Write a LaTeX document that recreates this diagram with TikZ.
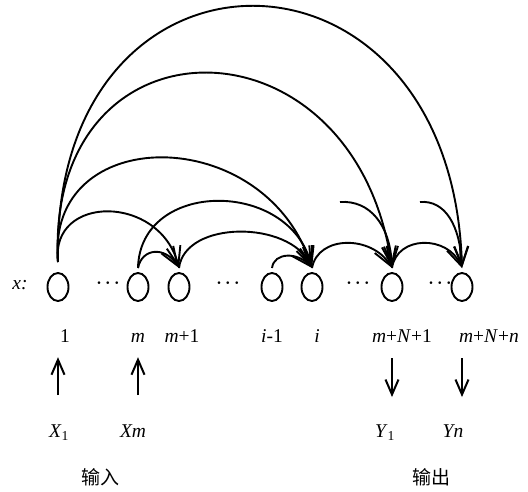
\documentclass[tikz,border=0pt]{standalone}
\usepackage{fontspec}
\setmainfont{Liberation Serif}
\newfontfamily\cjkfont{Noto Sans CJK SC}
\usetikzlibrary{shapes.geometric, arrows.meta}

\begin{document}
\begin{tikzpicture}[
    x=1pt, y=-1pt,
    cell/.style={draw, ellipse, line width=1.9pt, minimum width=21pt, minimum height=28pt, inner sep=0pt, outer sep=5pt},
    link/.style={-{Straight Barb[length=19pt, width=14pt]}, line width=1.9pt},
    io/.style={-{Straight Barb[length=15pt, width=13pt]}, line width=2pt},
    lbl/.style={font=\fontsize{19.5}{22}\selectfont, inner sep=0pt, anchor=base},
    gap/.style={font=\fontsize{17}{18}\selectfont\boldmath, inner sep=0pt},
    zh/.style={font=\fontsize{19}{22}\selectfont\cjkfont, inner sep=0pt}
]
\useasboundingbox (0,0) rectangle (528,491);

% Cells in one row
\node[lbl] (xl) at (20,289) {\textit{x:}};
\node[cell] (n1) at (58,287) {};
\node[cell] (nm) at (138,287) {};
\node[cell] (nm1) at (179,287) {};
\node[cell] (ni1) at (272,287) {};
\node[cell] (ni) at (312,287) {};
\node[cell] (nN1) at (392,287) {};
\node[cell] (nNn) at (462,287) {};

\node[gap] (d1) at (108,283) {$\cdots$};
\node[gap] (d2) at (228,283) {$\cdots$};
\node[gap] (d3) at (358,283) {$\cdots$};
\node[gap] (d4) at (440,283) {$\cdots$};

% Indices
\node[lbl] (l1) at (65,342) {1};
\node[lbl] (lm) at (138,342) {\textit{m}};
\node[lbl] (lm1) at (182,342) {\textit{m}+1};
\node[lbl] (li1) at (272,342) {\textit{i}-1};
\node[lbl] (li) at (317,342) {\textit{i}};
\node[lbl] (lN1) at (402,342) {\textit{m}+\textit{N}+1};
\node[lbl] (lNn) at (489,342) {\textit{m}+\textit{N}+\textit{n}};

% Inputs and outputs
\node[lbl] (x1) at (59,437) {\textit{X}\textsubscript{1}};
\node[lbl] (xm) at (133,437) {\textit{Xm}};
\node[lbl] (y1) at (385,437) {\textit{Y}\textsubscript{1}};
\node[lbl] (yn) at (453,437) {\textit{Yn}};
\node[zh] (inp) at (100,477) {输入};
\node[zh] (outp) at (431,477) {输出};

\draw[io, shorten <=29pt, shorten >=15pt] (n1 |- x1.north) -- (n1 |- l1.south);
\draw[io, shorten <=29pt, shorten >=15pt] (nm |- xm.north) -- (nm |- lm.south);
\draw[io, shorten <=16pt, shorten >=27pt] (nN1 |- lN1.south) -- (nN1 |- y1.north);
\draw[io, shorten <=16pt, shorten >=27pt] (nNn |- lNn.south) -- (nNn |- yn.north);

% Arcs from cell 1
\draw[link] ([yshift=6pt]n1.north) .. controls (50,-80) and (452,-80) .. (nNn.north);
\draw[link] ([yshift=6pt]n1.north) .. controls (45,9) and (355,9) .. (nN1.north);
\draw[link] ([yshift=6pt]n1.north) .. controls (45,122) and (265,122) .. (ni.north);
\draw[link] ([yshift=6pt]n1.north) .. controls (50,194) and (160,194) .. (nm1.north);

% Arcs between neighbours
\draw[link] (nm.north) .. controls (140,179) and (290,179) .. (ni.north);
\draw[link] (nm.north) .. controls (142,248) and (165,246) .. (nm1.north);
\draw[link] (nm1.north) .. controls (185,220) and (290,220) .. (ni.north);
\draw[link] (ni1.north) .. controls (274,252) and (298,252) .. (ni.north);
\draw[link] (ni.north) .. controls (318,235) and (372,235) .. (nN1.north);
\draw[link] (nN1.north) .. controls (397,235) and (448,235) .. (nNn.north);

% Incoming stubs
\coordinate (s1) at (340,202);
\coordinate (s2) at (420,202);
\draw[link] (s1) .. controls (370,200) and (390,225) .. (nN1.north);
\draw[link] (s2) .. controls (445,200) and (460,225) .. (nNn.north);

\end{tikzpicture}
\end{document}
